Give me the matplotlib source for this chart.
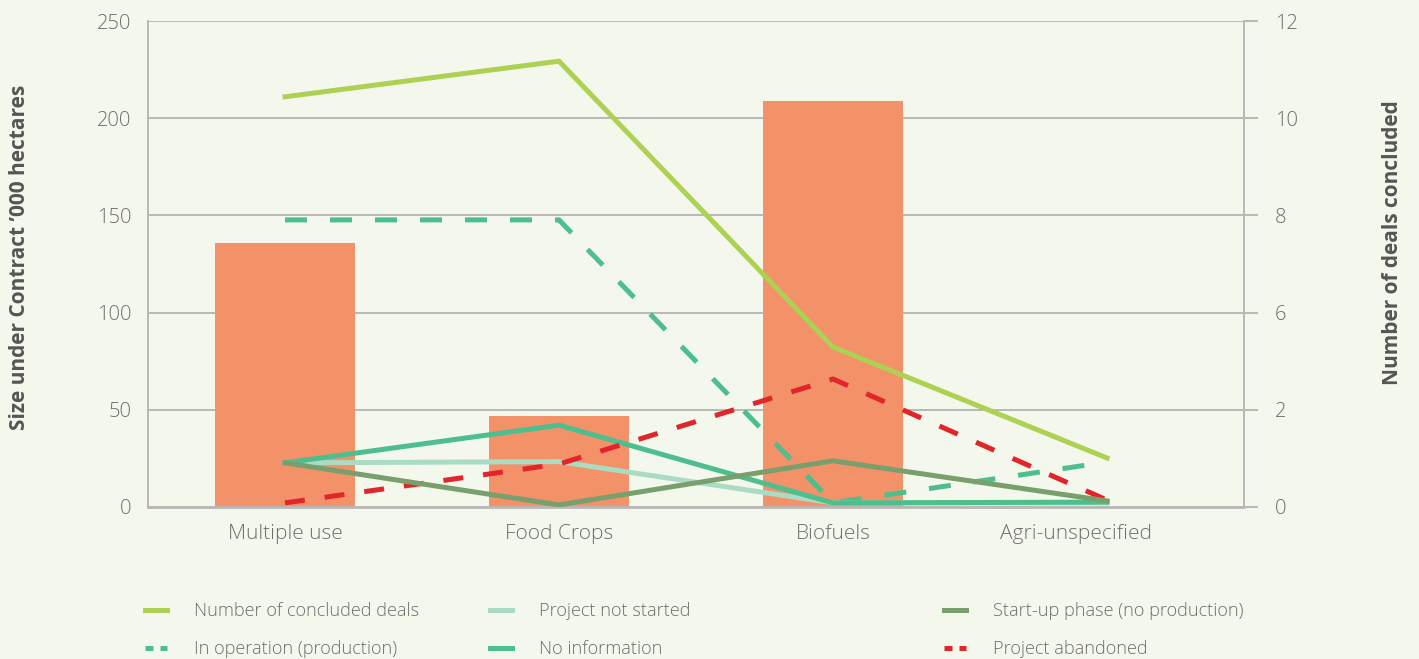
import numpy as np
import matplotlib
matplotlib.use('Agg')
import matplotlib.pyplot as plt
from matplotlib.lines import Line2D
from matplotlib.transforms import ScaledTranslation

plt.rcParams['font.family'] = ['Open Sans', 'DejaVu Sans']

# data
categories = ['Multiple use', 'Food Crops', 'Biofuels', 'Agri-unspecified']
size_hectares = [136, 47, 209, 0]          # '000 hectares (left axis)

concluded = [10.13, 11.01, 3.95, 1.21]     # number of deals (right axis)
in_operation = [7.09, 7.09, 0.1, 1.11]
not_started = [1.09, 1.12, 0.1, 0.1]
no_information = [1.09, 2.02, 0.1, 0.12]
startup_phase = [1.09, 0.05, 1.14, 0.15]
abandoned = [0.1, 1.06, 3.16, 0.17]

left_ticks = [0, 50, 100, 150, 200, 250]
right_tick_labels = ['0', '2', '6', '8', '10', '12']

# colours
bg = '#f4f8ec'
bar_col = '#f39169'
c_concluded = '#add152'
c_teal = '#4dbe8e'
c_notstarted = '#a9dcc3'
c_startup = '#789f6c'
c_red = '#e1252b'
grid_col = '#b8b8b8'
txt_col = '#6e6e6e'
lab_col = '#555555'

fig = plt.figure(figsize=(14.19, 6.59), dpi=100, facecolor=bg)
ax = fig.add_axes([0.1043, 0.2307, 0.7724, 0.7373])
ax.set_facecolor(bg)

x = np.arange(len(categories))
ax.bar(x, size_hectares, width=0.51, color=bar_col, zorder=2)

ax.set_xlim(-0.5, 3.5)
ax.set_ylim(0, 250)
ax.set_yticks(left_ticks)
ax.set_yticklabels([str(t) for t in left_ticks])
ax.yaxis.grid(True, color=grid_col, linewidth=1.4)
ax.set_axisbelow(True)
ax.tick_params(axis='y', length=0, pad=12, labelsize=14.5, labelcolor=txt_col)
ax.tick_params(axis='x', length=0, pad=12, labelsize=15, labelcolor=txt_col)
ax.set_xticks(x)
ax.set_xticklabels(categories, fontweight='light')
for lbl in ax.get_yticklabels():
    lbl.set_fontweight('light')
# last category label sits a little left of its slot in the original
last = ax.get_xticklabels()[-1]
last.set_transform(last.get_transform() + ScaledTranslation(-0.31, 0, fig.dpi_scale_trans))
for side in ['top', 'right']:
    ax.spines[side].set_visible(False)
ax.spines['left'].set_color(grid_col)
ax.spines['left'].set_linewidth(1.4)
ax.spines['bottom'].set_color(grid_col)
ax.spines['bottom'].set_linewidth(2)
ax.set_ylabel("Size under Contract \u2019000 hectares", fontsize=15, fontweight='bold',
              color=lab_col)
ax.yaxis.set_label_coords(-0.108, 0.514)

ax2 = ax.twinx()
ax2.set_ylim(0, 12)
ax2.set_yticks(np.linspace(0, 12, 6))
ax2.set_yticklabels(right_tick_labels, fontweight='light')
ax2.tick_params(axis='y', length=10, width=1.4, color=grid_col, pad=12,
                labelsize=14.5, labelcolor=txt_col)
for side in ['top', 'left', 'bottom']:
    ax2.spines[side].set_visible(False)
ax2.spines['right'].set_color(grid_col)
ax2.spines['right'].set_linewidth(1.4)
ax2.set_ylabel('Number of deals concluded', fontsize=15, fontweight='bold',
               color=lab_col)
ax2.yaxis.set_label_coords(1.126, 0.545)

lw = 3.6
dash = (4.4, 4.6)
ax2.plot(x, concluded, color=c_concluded, lw=lw, solid_joinstyle='miter', zorder=3)
ax2.plot(x, in_operation, color=c_teal, lw=lw, dashes=dash, zorder=3)
ax2.plot(x, not_started, color=c_notstarted, lw=lw, zorder=3)
ax2.plot(x, no_information, color=c_teal, lw=lw, zorder=3)
ax2.plot(x, abandoned, color=c_red, lw=lw, dashes=(4.0, 4.0), zorder=3)
ax2.plot(x, startup_phase, color=c_startup, lw=lw, zorder=3)

# legend in three columns
def leg_handle(color, dashed=False):
    if dashed:
        return Line2D([], [], color=color, lw=lw, dashes=(1.6, 1.4))
    return Line2D([], [], color=color, lw=lw)

columns = [
    ([leg_handle(c_concluded), leg_handle(c_teal, True)],
     ['Number of concluded deals', 'In operation (production)'], 0.097),
    ([leg_handle(c_notstarted), leg_handle(c_teal)],
     ['Project not started', 'No information'], 0.340),
    ([leg_handle(c_startup), leg_handle(c_red, True)],
     ['Start-up phase (no production)', 'Project abandoned'], 0.660),
]
for handles, labels, xpos in columns:
    leg = fig.legend(handles, labels, loc='upper left', bbox_to_anchor=(xpos, 0.097),
                     frameon=False, fontsize=13.1, handlelength=1.2, handletextpad=1.5,
                     labelspacing=1.1, borderaxespad=0)
    for t in leg.get_texts():
        t.set_color(txt_col)
        t.set_fontweight('light')

fig.savefig('out.png', dpi=100, facecolor=bg)
